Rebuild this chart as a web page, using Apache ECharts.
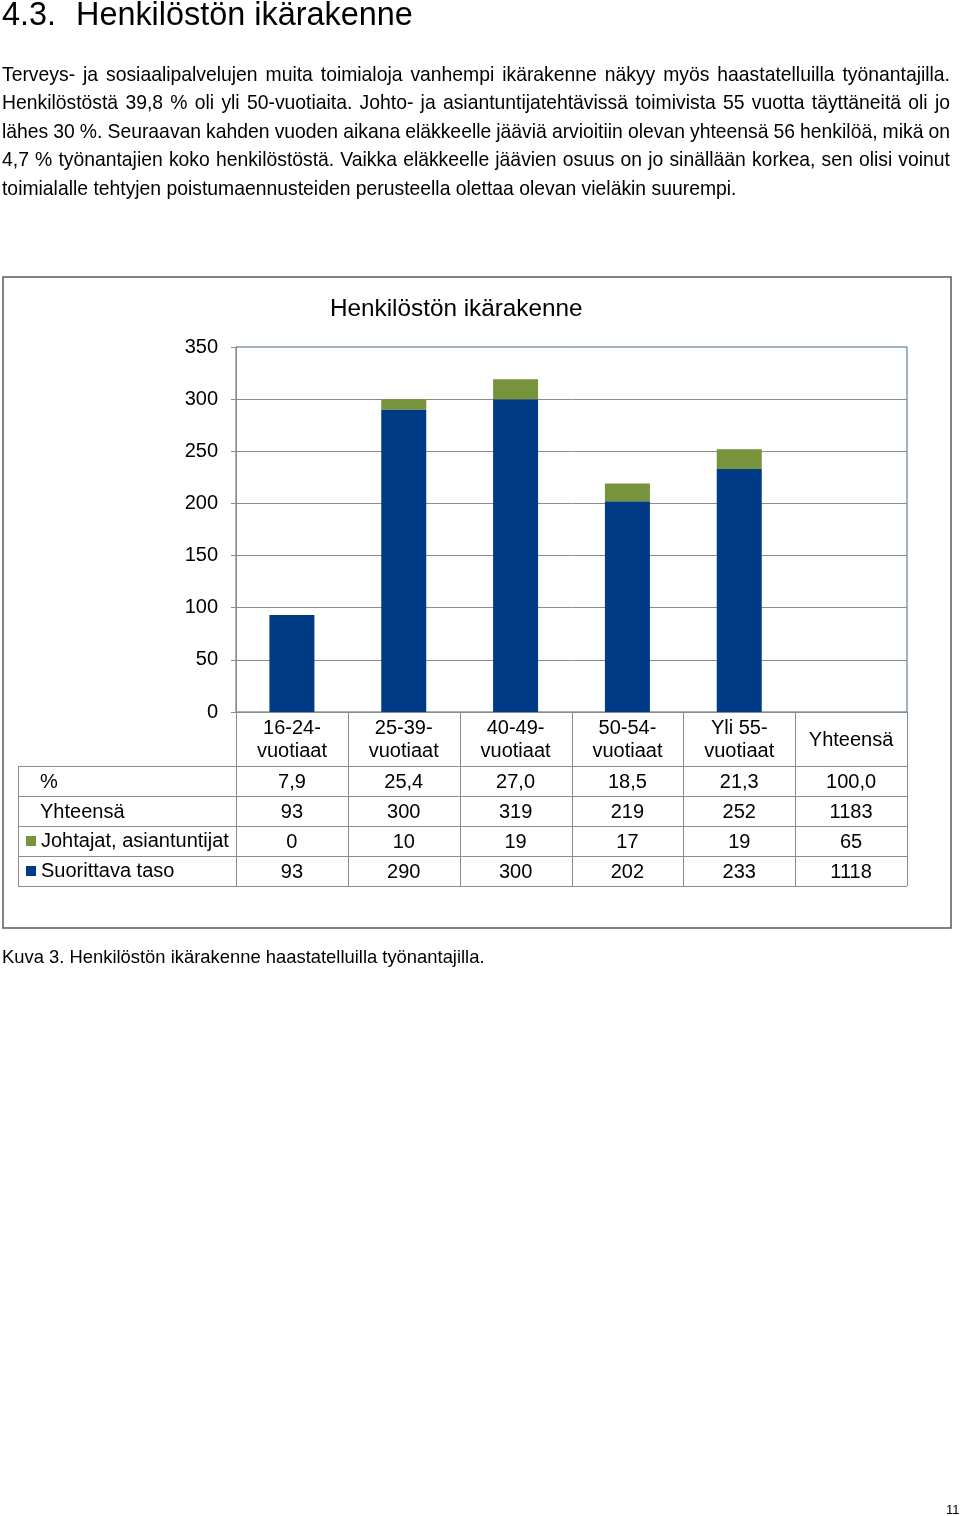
<!DOCTYPE html>
<html><head><meta charset="utf-8">
<script src="https://cdn.jsdelivr.net/npm/echarts@6/dist/echarts.min.js"></script>
<style>
html,body{margin:0;padding:0;background:#fff;}
body{width:960px;height:1516px;position:relative;overflow:hidden;font-family:'Liberation Sans',Arial,sans-serif;color:#000;}
#chart{position:absolute;left:0;top:0;width:960px;height:1516px;}
.t{position:absolute;white-space:pre;}
.h{top:-3.7px;font-size:32.4px;line-height:36px;}
.pl{position:absolute;left:2px;font-size:19.35px;line-height:28.5px;white-space:nowrap;}
#cap{left:2px;top:946.5px;font-size:18.4px;line-height:20px;}
#pg{left:946px;top:1502px;font-size:13px;line-height:16px;}
</style></head>
<body>
<div id="chart"></div>
<div class="t h" style="left:2px">4.3.</div>
<div class="t h" style="left:76px">Henkilöstön ikärakenne</div>
<div class="pl j" style="top:59.5px">Terveys- ja sosiaalipalvelujen muita toimialoja vanhempi ikärakenne näkyy myös haastatelluilla työnantajilla.</div>
<div class="pl j" style="top:88px">Henkilöstöstä 39,8 % oli yli 50-vuotiaita. Johto- ja asiantuntijatehtävissä toimivista 55 vuotta täyttäneitä oli jo</div>
<div class="pl j" style="top:116.5px">lähes 30 %. Seuraavan kahden vuoden aikana eläkkeelle jääviä arvioitiin olevan yhteensä 56 henkilöä, mikä on</div>
<div class="pl j" style="top:145px">4,7 % työnantajien koko henkilöstöstä. Vaikka eläkkeelle jäävien osuus on jo sinällään korkea, sen olisi voinut</div>
<div class="pl" style="top:173.5px">toimialalle tehtyjen poistumaennusteiden perusteella olettaa olevan vieläkin suurempi.</div>
<div class="t" id="cap">Kuva 3. Henkilöstön ikärakenne haastatelluilla työnantajilla.</div>
<div class="t" id="pg">11</div>
<script>
// justify the full paragraph lines to the text column width
document.querySelectorAll('.pl.j').forEach(el => {
  const target = 948;
  const w = el.getBoundingClientRect().width;
  const spaces = (el.textContent.match(/ /g) || []).length;
  if (spaces > 0) el.style.wordSpacing = ((target - w) / spaces) + 'px';
});

const categories = ['16-24-\nvuotiaat', '25-39-\nvuotiaat', '40-49-\nvuotiaat', '50-54-\nvuotiaat', 'Yli 55-\nvuotiaat', 'Yhteensä'];
const percentRow = ['7,9', '25,4', '27,0', '18,5', '21,3', '100,0'];
const totalRow = [93, 300, 319, 219, 252, 1183];
const managers = [0, 10, 19, 17, 19, 65];
const operative = [93, 290, 300, 202, 233, 1118];
const barCount = 5; // the "Yhteensä" column is shown only in the data table

const FONT = "'Liberation Sans', Arial, sans-serif";
const FS = 20;
const chart = echarts.init(document.getElementById('chart'), null, {renderer: 'canvas'});
chart.setOption({
  animation: false,
  textStyle: {fontFamily: FONT},
  title: {
    text: 'Henkilöstön ikärakenne', left: 325, top: 292,
    textStyle: {fontSize: 24.3, fontWeight: 'normal', color: '#000', fontFamily: FONT}
  },
  legend: {
    orient: 'vertical', left: 21, top: 826, itemWidth: 10, itemHeight: 10, itemGap: 10,
    icon: 'rect', selectedMode: false,
    data: ['Johtajat, asiantuntijat', 'Suorittava taso'],
    textStyle: {fontSize: FS, color: '#000', fontFamily: FONT}
  },
  grid: {left: 236, right: 53, top: 347, bottom: 804, show: true, borderColor: '#45618f', borderWidth: 1},
  xAxis: {
    type: 'category', data: categories,
    axisLine: {lineStyle: {color: '#8c8c8c'}},
    axisTick: {show: false},
    axisLabel: {interval: 0, fontSize: FS, lineHeight: 23, color: '#000', verticalAlign: 'middle', margin: 28, fontFamily: FONT}
  },
  yAxis: {
    type: 'value', min: 0, max: 350, interval: 50,
    axisLine: {show: true, lineStyle: {color: '#8c8c8c'}},
    axisTick: {show: true, length: 5, lineStyle: {color: '#8c8c8c'}},
    axisLabel: {fontSize: FS, color: '#000', margin: 18, fontFamily: FONT},
    splitLine: {show: true, showMaxLine: false, lineStyle: {color: '#8c8c8c'}}
  },
  series: [
    {name: 'Suorittava taso', type: 'bar', stack: 's', barWidth: 45,
     data: operative.slice(0, barCount), itemStyle: {color: '#013A85'}},
    {name: 'Johtajat, asiantuntijat', type: 'bar', stack: 's', barWidth: 45,
     data: managers.slice(0, barCount), itemStyle: {color: '#77933C'}}
  ]
});

function buildTable() {
  const g = [];
  const xc = categories.map((c, i) => chart.convertToPixel({xAxisIndex: 0}, i));
  const band = xc[1] - xc[0];
  const y0 = chart.convertToPixel({yAxisIndex: 0}, 0);
  const headerH = 54, rowH = 30, leftX = 18;
  const bottomY = y0 + headerH + 4 * rowH;
  const rightX = xc[xc.length - 1] + band / 2;
  const crisp = v => Math.round(v) + 0.5;
  const lineStyle = {stroke: '#8c8c8c', lineWidth: 1};
  // frame of the chart object
  g.push({type: 'rect', z: 0, shape: {x: 3, y: 277, width: 948, height: 651},
          style: {fill: null, stroke: '#5a5a5a', lineWidth: 1.5}});
  for (let i = 0; i <= categories.length; i++) {
    const x = crisp(xc[0] - band / 2 + i * band);
    g.push({type: 'line', shape: {x1: x, y1: y0, x2: x, y2: bottomY}, style: lineStyle});
  }
  g.push({type: 'line', shape: {x1: crisp(leftX), y1: y0 + headerH, x2: crisp(leftX), y2: bottomY}, style: lineStyle});
  for (let r = 0; r <= 4; r++) {
    const y = crisp(y0 + headerH + r * rowH);
    g.push({type: 'line', shape: {x1: leftX, y1: y, x2: rightX, y2: y}, style: lineStyle});
  }
  const rows = [['%', percentRow], ['Yhteensä', totalRow], [null, managers], [null, operative]];
  rows.forEach(([label, vals], r) => {
    const yc = y0 + headerH + r * rowH + rowH / 2 + 1;
    if (label) g.push({type: 'text', style: {text: label, x: 40, y: yc, align: 'left', verticalAlign: 'middle',
                       fontSize: FS, fontFamily: FONT, fill: '#000'}});
    vals.forEach((v, i) => g.push({type: 'text', style: {text: String(v), x: xc[i], y: yc, align: 'center',
                       verticalAlign: 'middle', fontSize: FS, fontFamily: FONT, fill: '#000'}}));
  });
  chart.setOption({graphic: g});
}
buildTable();
</script>
</body></html>
